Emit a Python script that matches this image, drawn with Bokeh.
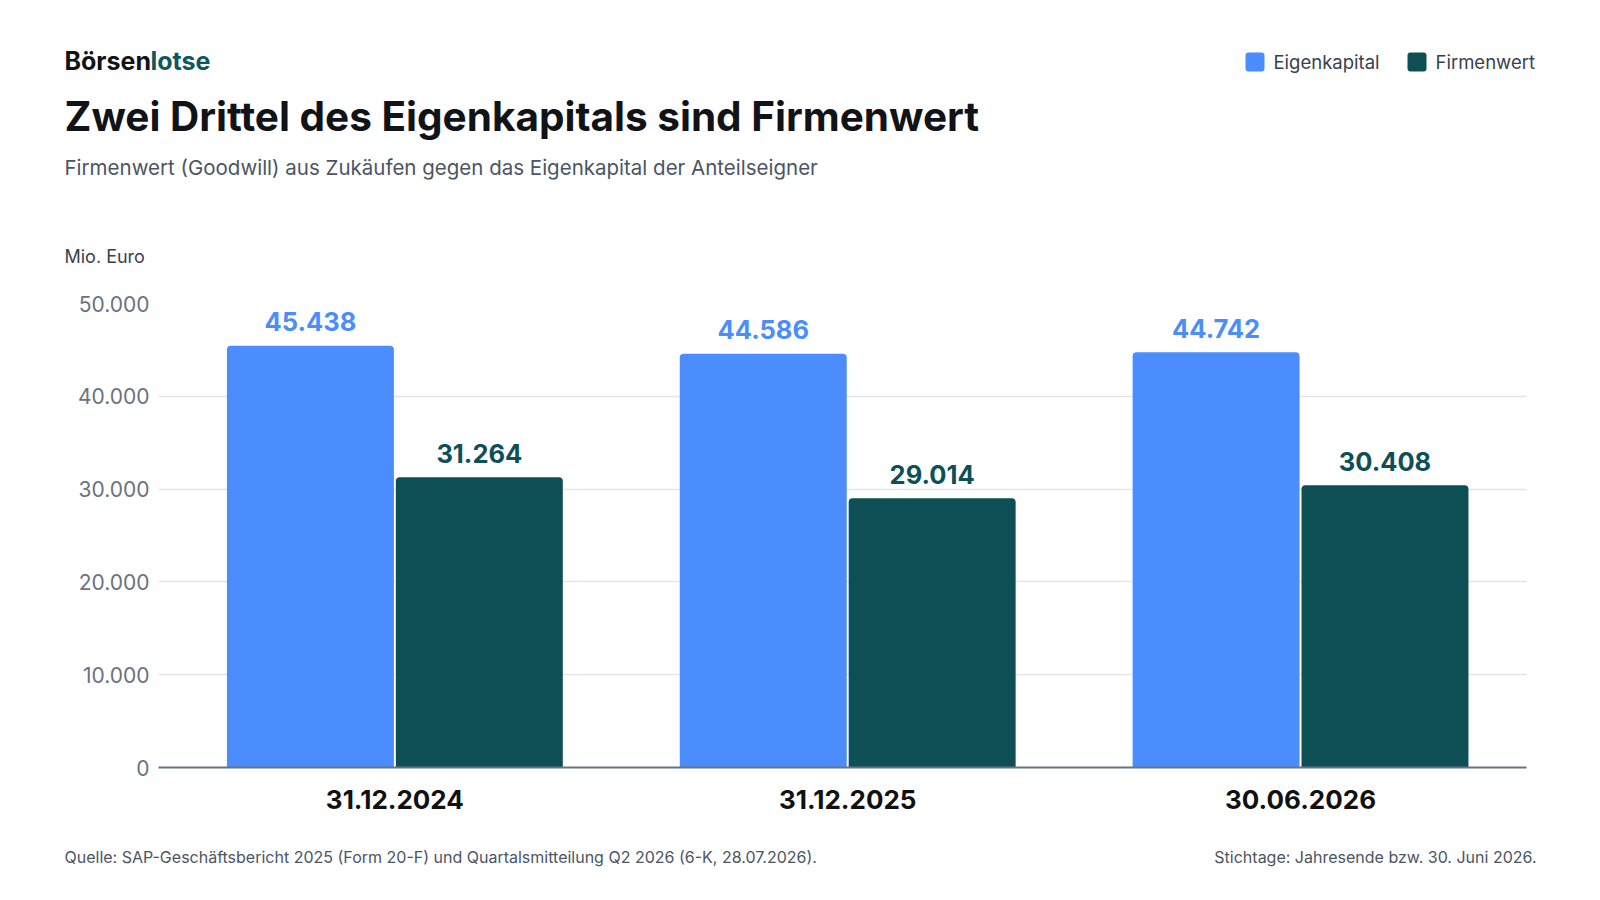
from bokeh.models import ColumnDataSource, Range1d, FixedTicker
from bokeh.plotting import figure
from bokeh.embed import file_html
from bokeh.resources import INLINE
from bokeh.core.properties import value

dates = ["31.12.2024", "31.12.2025", "30.06.2026"]
eigenkapital = [45438, 44586, 44742]
firmenwert = [31264, 29014, 30408]
y_ticks = [0, 10000, 20000, 30000, 40000, 50000]
series_names = ["Eigenkapital", "Firmenwert"]

BLUE = "#4b8dfe"
GREEN = "#0e4f56"
FONT = "Inter"
W = 1600


def de_num(v):
    return f"{v:,}".replace(",", ".")


def blank_fig(h):
    f = figure(width=W, height=h, output_backend="svg", toolbar_location=None,
               x_range=Range1d(0, W), y_range=Range1d(h, 0),
               x_axis_location=None, y_axis_location=None, min_border=0)
    f.outline_line_color = None
    f.grid.grid_line_color = None
    return f


def txt(f, x, y, text, size, color, bold=False, align="left"):
    # y is the wanted baseline; the svg text sits ~0.39em lower, so lift it
    f.text(x=[x], y=[y - 0.39 * size], text=[text], text_font=value(FONT), text_font_size=f"{size}px",
           text_color=color, text_font_style="bold" if bold else "normal",
           text_align=align, text_baseline="alphabetic")


# header: brand, title, subtitle, legend, unit
head = blank_fig(280)
txt(head, 64, 70.7, "Börsen", 25, "#111318", bold=True)
txt(head, 150, 70.7, "lotse", 25, "#10575c", bold=True)
txt(head, 64, 131.7, "Zwei Drittel des Eigenkapitals sind Firmenwert", 40.5, "#111318", bold=True)
txt(head, 64, 175, "Firmenwert (Goodwill) aus Zukäufen gegen das Eigenkapital der Anteilseigner", 20.5, "#4b5563")
txt(head, 64, 263.3, "Mio. Euro", 18, "#374151")
for sx, color, name in zip([1245, 1407], [BLUE, GREEN], series_names):
    head.quad(left=[sx], right=[sx + 19], top=[52], bottom=[71], fill_color=color, line_color=None,
              border_radius=3)
    txt(head, sx + 28, 68.3, name, 18.5, "#374151")

# chart
idx = list(range(len(dates)))
offset = 0.1865
bar_w = 0.3687

src = ColumnDataSource(data=dict(
    x_ek=[i - offset for i in idx],
    x_fw=[i + offset for i in idx],
    ek=eigenkapital,
    fw=firmenwert,
    ek_lbl=[de_num(v) for v in eigenkapital],
    fw_lbl=[de_num(v) for v in firmenwert],
))

p = figure(width=W, height=555, output_backend="svg", toolbar_location=None,
           x_range=Range1d(-0.522, 2.499), y_range=Range1d(0, 50000),
           min_border_left=158, min_border_right=74, min_border_top=23, min_border_bottom=68)
p.outline_line_color = None

p.vbar(x="x_ek", top="ek", width=bar_w, source=src, fill_color=BLUE, line_color=None,
       border_radius=(4, 4, 0, 0))
p.vbar(x="x_fw", top="fw", width=bar_w, source=src, fill_color=GREEN, line_color=None,
       border_radius=(4, 4, 0, 0))

p.text(x="x_ek", y="ek", text="ek_lbl", source=src, text_align="center", text_baseline="alphabetic",
       y_offset=-24, text_font=value(FONT), text_font_style="bold", text_font_size="25.5px", text_color=BLUE)
p.text(x="x_fw", y="fw", text="fw_lbl", source=src, text_align="center", text_baseline="alphabetic",
       y_offset=-24, text_font=value(FONT), text_font_style="bold", text_font_size="25.5px", text_color=GREEN)

p.xgrid.grid_line_color = None
p.ygrid.grid_line_color = "#e3e5e8"
p.ygrid.grid_line_width = 1.5
p.yaxis.ticker = FixedTicker(ticks=y_ticks)
p.yaxis.major_label_overrides = {t: de_num(t) for t in y_ticks}
p.yaxis.axis_line_color = None
p.yaxis.major_tick_line_color = None
p.yaxis.major_tick_out = 0
p.yaxis.minor_tick_line_color = None
p.yaxis.minor_tick_out = 0
p.yaxis.major_label_standoff = 9
p.yaxis.major_label_text_font = FONT
p.yaxis.major_label_text_font_size = "21px"
p.yaxis.major_label_text_color = "#6b7280"

p.xaxis.ticker = FixedTicker(ticks=idx)
p.xaxis.major_label_overrides = {i: d for i, d in zip(idx, dates)}
p.xaxis.axis_line_color = "#6b7280"
p.xaxis.axis_line_width = 2
p.xaxis.major_tick_line_color = None
p.xaxis.minor_tick_line_color = None
p.xaxis.major_label_standoff = 16
p.xaxis.major_label_text_font = FONT
p.xaxis.major_label_text_font_size = "26px"
p.xaxis.major_label_text_font_style = "bold"
p.xaxis.major_label_text_color = "#111111"

# footer
foot = blank_fig(65)
txt(foot, 64, 28, "Quelle: SAP-Geschäftsbericht 2025 (Form 20-F) und Quartalsmitteilung Q2 2026 (6-K, 28.07.2026).",
    16, "#4b5563")
txt(foot, 1536, 28, "Stichtage: Jahresende bzw. 30. Juni 2026.", 16, "#4b5563", align="right")

# separate roots so the frames are not aligned to each other
open("out.html", "w").write(file_html([head, p, foot], INLINE))
